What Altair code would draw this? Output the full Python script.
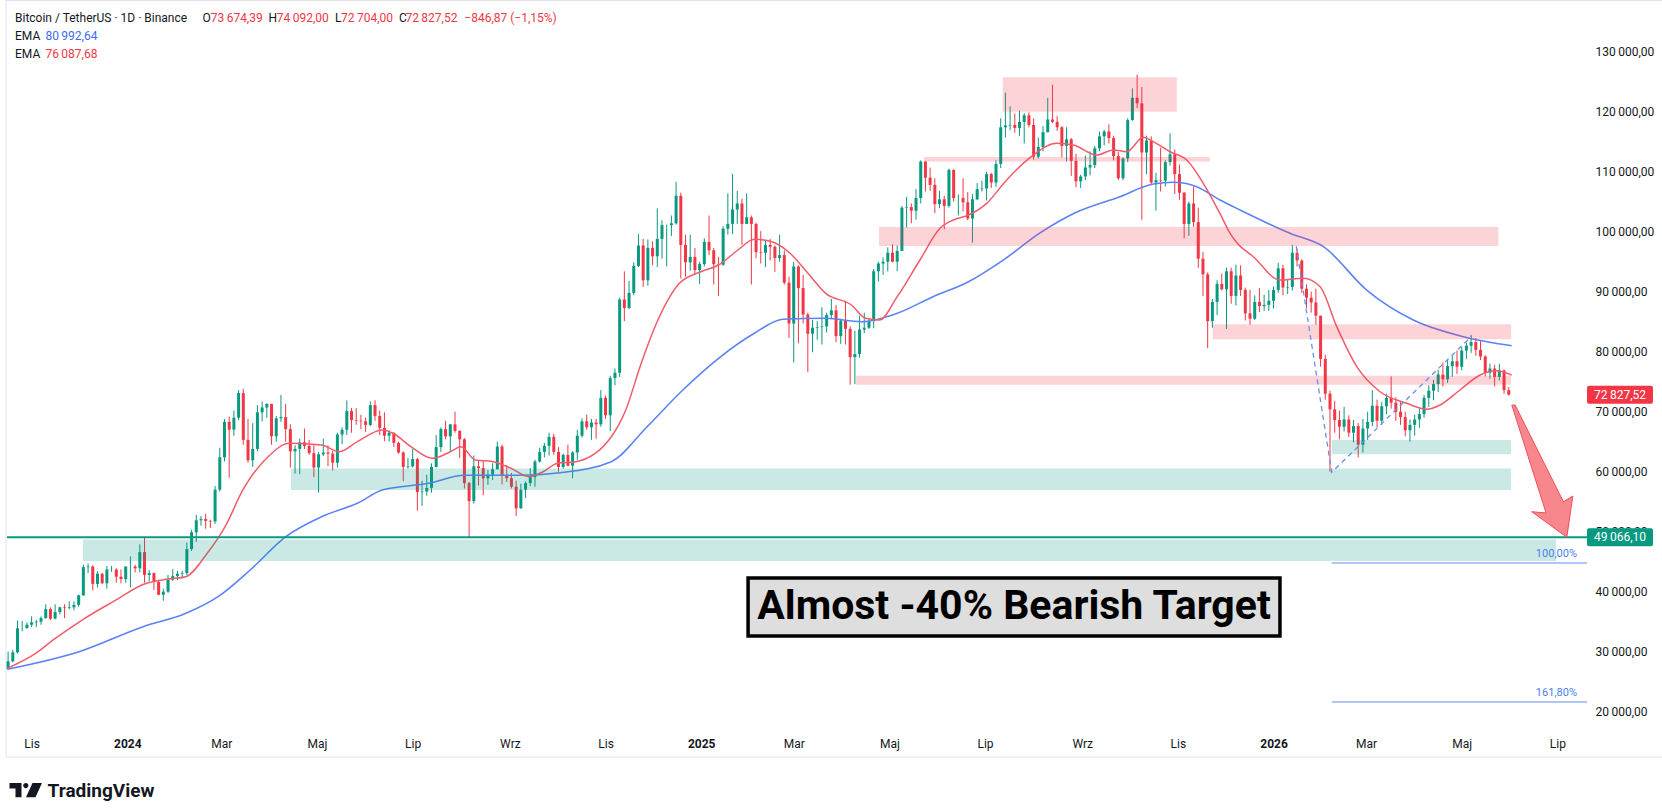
import altair as alt
import pandas as pd

FONT = "Roboto"
GREEN = "#089981"
RED = "#F23645"
TEXT = "#131722"

# ---------------- data (days are counted from 2026-01-01) ----------------
START_DAY = -808          # first candle bucket starts 2023-10-16
STEP = 3                  # each candle covers three days
first_open = 27150

closes = [
    28400, 29900, 33900, 33900, 34500, 34900, 35000, 35600, 37100, 35500,
    36600, 37400, 37300, 37400, 37800, 39400, 44100, 44200, 41300, 43000,
    41400, 43700, 43700, 42500, 42100, 44200, 44200, 43900, 46600, 42800,
    43100, 41600, 39500, 40000, 42000, 42600, 43000, 43100, 47100, 49900,
    51900, 52100, 51800, 51700, 57000, 62400, 68300, 67000, 69000, 73100,
    65300, 61900, 63800, 69900, 70700, 71300, 65900, 68900, 69100, 67100,
    63400, 63800, 64900, 64300, 63100, 60700, 62900, 63200, 63000, 61500,
    66200, 67000, 70100, 68600, 68500, 68400, 67800, 71100, 69300, 67300,
    66000, 66500, 64800, 63200, 60800, 60900, 62100, 56600, 56700, 57300,
    60800, 64100, 67100, 65900, 67900, 66800, 65400, 58100, 55100, 60900,
    60600, 58900, 59500, 60400, 64200, 59400, 58900, 57500, 53900, 57000,
    58100, 59100, 61700, 63300, 64300, 65800, 63300, 60800, 62800, 61000,
    63200, 66000, 68400, 67400, 68200, 67900, 72300, 69400, 75600, 76500,
    88700, 87300, 89800, 94300, 97700, 91900, 97300, 95900, 98800, 101100,
    101100, 101400, 106000, 97800, 94900, 95800, 93600, 94600, 98300, 96900,
    94600, 94500, 100500, 101300, 103700, 104700, 101300, 102400, 101300, 96600,
    96500, 97800, 97500, 95600, 96100, 91500, 84700, 94200, 90600, 86200,
    83000, 84000, 84100, 84200, 86100, 86900, 82600, 85200, 83800, 79100,
    79600, 83700, 84000, 85100, 93400, 94700, 95000, 96500, 95000, 96800,
    104000, 104100, 103500, 105600, 111700, 109000, 107800, 104600, 105400, 104300,
    110300, 105600, 105600, 104900, 102200, 105400, 107100, 107200, 109600, 108200,
    111300, 117400, 117700, 117800, 117300, 118300, 119400, 117800, 112500, 114100,
    116600, 118700, 118300, 117400, 114300, 115400, 111800, 108400, 109200, 110700,
    111100, 113900, 115900, 116700, 115600, 112600, 108900, 112200, 118600, 122300,
    121400, 113200, 115200, 108200, 108600, 108500, 111600, 112900, 109600, 106500,
    101300, 104700, 101600, 95500, 92900, 85100, 88300, 91300, 90400, 93400,
    89300, 92700, 90300, 86400, 85500, 88300, 87600, 87800, 88500, 90300,
    93900, 90700, 90800, 96500, 95200, 90500, 89000, 88200, 86000, 78800,
    73000, 70400, 68600, 67500, 68700, 66500, 67600, 64500, 67200, 68300,
    71000, 68500, 70900, 72300, 71500, 70000, 69100, 66900, 67800, 68700,
    69600, 72300, 73500, 74600, 76200, 75400, 77600, 78400, 77500, 80200,
    81000, 81600, 80300, 79200, 76500, 77200, 75800, 76900, 73600, 72827.52,
]

highs = [
    30000, 30300, 35200, 35100, 34900, 35900, 35300, 35900, 37900, 37400,
    37900, 37500, 37900, 38400, 38400, 39500, 44500, 44700, 44400, 43400,
    43100, 44300, 44300, 43900, 43700, 44200, 45900, 44500, 47900, 49000,
    43600, 43200, 42000, 40500, 42800, 43800, 43500, 43500, 48200, 50300,
    52800, 52600, 53000, 52000, 57600, 64000, 68800, 69200, 70200, 73600,
    73800, 68800, 68100, 71100, 71700, 71400, 71300, 69300, 72800, 71300,
    67900, 64400, 65500, 67200, 65300, 64400, 63300, 65500, 64400, 63500,
    66500, 67400, 71900, 70600, 70600, 69500, 69000, 71700, 71900, 70200,
    69900, 66900, 66500, 65000, 63400, 62300, 63800, 62300, 58500, 59500,
    61400, 66100, 67400, 68500, 67900, 70000, 66900, 65600, 58300, 62700,
    61800, 61800, 60300, 61400, 65000, 64500, 61100, 59800, 58500, 58000,
    58400, 60600, 62000, 64000, 64800, 66500, 66300, 64100, 63000, 64500,
    63400, 67000, 68900, 69500, 68800, 68800, 73600, 72700, 76000, 77200,
    89000, 93400, 91800, 94900, 99600, 98800, 98700, 98400, 103900, 101900,
    101200, 102700, 108300, 106500, 99500, 99500, 97300, 95000, 98900, 102700,
    97300, 95800, 100900, 106400, 109600, 106800, 105500, 106400, 102700, 101500,
    100100, 98500, 98800, 97700, 99500, 96900, 92500, 95000, 94400, 92800,
    86500, 85300, 85100, 87400, 86500, 88800, 87800, 85500, 88500, 84200,
    83500, 86000, 86500, 85500, 93800, 95000, 95700, 97400, 97900, 97700,
    104300, 105800, 104700, 107100, 111900, 111300, 110700, 108900, 106800, 106000,
    110500, 110400, 106200, 108900, 106600, 106300, 108100, 108500, 110000, 109800,
    111900, 118900, 123200, 120900, 119700, 120200, 119800, 119900, 118900, 115700,
    117600, 122300, 124500, 119300, 117600, 117400, 115600, 113000, 109500, 112700,
    113400, 114300, 116700, 117000, 117900, 116000, 113300, 112400, 118900, 123900,
    126200, 124100, 116000, 115900, 109800, 114000, 111900, 116400, 113700, 111200,
    106600, 105000, 107500, 104000, 96600, 93200, 88800, 91900, 93000, 94000,
    94000, 94500, 94400, 90700, 90300, 89400, 90600, 89500, 90300, 90900,
    94800, 94500, 92000, 97800, 97200, 95400, 91200, 90000, 90500, 86000,
    79500, 73500, 71800, 70200, 70800, 69400, 68600, 68100, 68800, 70000,
    73600, 72000, 71600, 73000, 75900, 72400, 71600, 70000, 68700, 69500,
    70500, 72800, 74400, 75300, 77000, 78200, 78800, 79300, 80200, 80800,
    81500, 82800, 82300, 81800, 79400, 78000, 77800, 78000, 77000, 74100,
]

lows = [
    27100, 28200, 29700, 33400, 33900, 34100, 34100, 34500, 35500, 35300,
    35400, 36200, 35600, 37100, 36900, 37500, 39300, 43100, 40200, 40700,
    41300, 40500, 43300, 41500, 41400, 41500, 40700, 43200, 43200, 41500,
    41700, 40300, 39400, 38500, 39800, 41800, 41900, 42200, 42800, 46800,
    48300, 51000, 50500, 50600, 51300, 56700, 61700, 59000, 66000, 68600,
    64500, 61500, 60800, 63400, 68400, 69000, 64500, 65000, 68300, 65000,
    60700, 59700, 59600, 63800, 62800, 59100, 56500, 62600, 60900, 60200,
    60700, 64600, 66100, 66500, 67800, 67100, 66600, 67600, 68500, 66100,
    65100, 65000, 64100, 63000, 58400, 60500, 60700, 53500, 54300, 56000,
    56500, 60700, 63300, 65400, 63400, 66500, 62300, 57200, 49000, 54700,
    57700, 56100, 57800, 58600, 60400, 57900, 58300, 57200, 52600, 53800,
    55600, 57600, 57500, 61500, 62400, 62700, 62800, 60000, 60500, 60900,
    58900, 62000, 65700, 67000, 65300, 65500, 67500, 68800, 66800, 74400,
    75800, 85100, 87100, 89400, 94100, 90800, 91000, 94400, 94100, 95500,
    94200, 99300, 101200, 92200, 92500, 93500, 92900, 91300, 94200, 96100,
    91200, 89300, 94300, 99500, 99600, 101300, 97800, 101300, 91200, 95600,
    94700, 94100, 95200, 93300, 95000, 91200, 82300, 78200, 81400, 84700,
    76600, 79900, 82000, 81200, 83200, 85500, 81600, 81300, 81200, 74500,
    74600, 79000, 83100, 83800, 83900, 91700, 92800, 93400, 94900, 93400,
    96800, 100700, 101400, 102000, 104700, 106700, 106800, 103100, 103900, 100400,
    104000, 105000, 102700, 103400, 101900, 98200, 105300, 106700, 105200, 107300,
    107500, 110600, 115700, 116900, 116500, 116000, 114700, 117400, 112000, 112200,
    113400, 116500, 118100, 116800, 112400, 111700, 109300, 107400, 107300, 108600,
    109400, 110600, 113400, 114400, 114700, 111900, 108600, 108600, 111600, 118500,
    120600, 102000, 109600, 107900, 103500, 106700, 107500, 111000, 106300, 105300,
    98900, 99300, 100800, 94000, 89300, 80600, 84000, 86100, 90200, 83800,
    88000, 87700, 89300, 85200, 84500, 85300, 86600, 86800, 86800, 87200,
    89800, 89400, 89600, 90200, 94200, 89800, 87300, 86500, 84500, 77500,
    72000, 60000, 66500, 65400, 66700, 65800, 64900, 62400, 63200, 65300,
    67600, 67400, 67800, 69600, 70500, 68500, 67800, 65900, 65000, 66000,
    67300, 69000, 70800, 71900, 73300, 74200, 74800, 75800, 76300, 76900,
    78800, 79800, 79300, 78600, 75900, 75500, 74200, 75200, 73000, 72700,
]

# EMA curves (day, value)
ema_slow_days = [-807.6, -761.8, -720.9, -693.6, -673.1, -652.6, -629.9, -607.1, -584.3, -568.4,
                 -538.7, -516.0, -481.8, -455.0, -422.3, -399.5, -376.7, -353.9, -331.1, -312.9,
                 -285.6, -262.8, -240.0, -217.2, -194.5, -171.7, -148.9, -126.1, -97.9, -76.7,
                 -63.9, -49.0, -34.1, -21.4, 10.5, 31.8, 59.4, 89.2, 121.0, 151.9]
ema_slow_vals = [27070, 30000, 34170, 36400, 39170, 43620, 49170, 52500, 54730, 56950,
                 58070, 59400, 59400, 59830, 61670, 67500, 73620, 78900, 83070, 85400,
                 85570, 85000, 86400, 89170, 91670, 95400, 99800, 103200, 105830, 107950,
                 108230, 107500, 105280, 103620, 99730, 97500, 90280, 85280, 82500, 80990]

ema_fast_days = [-807.6, -789.4, -778.0, -759.8, -737.0, -721.0, -705.1, -693.7, -680.0, -668.6,
                 -657.2, -641.2, -627.6, -607.1, -595.7, -584.3, -568.4, -561.5, -550.1, -536.4,
                 -525.0, -518.2, -509.1, -497.7, -486.3, -474.9, -465.8, -456.7, -445.0, -422.3,
                 -413.1, -404.0, -392.6, -378.9, -365.3, -353.9, -341.6, -331.1, -319.8, -308.3,
                 -296.9, -285.6, -269.2, -260.1, -251.4, -240.0, -225.5, -212.7, -204.2, -194.5,
                 -182.9, -170.2, -153.2, -138.3, -127.7, -112.8, -102.2, -93.6, -83.0, -76.7,
                 -66.0, -55.4, -44.8, -34.1, -27.7, -23.5, -12.9, 4.1, 19.0, 29.7,
                 40.3, 53.1, 67.9, 84.9, 97.7, 106.2, 118.9, 131.7, 142.3, 151.9]
ema_fast_vals = [27230, 29730, 32000, 35280, 38800, 41200, 42100, 42500, 46400, 50830,
                 57000, 62500, 64730, 64450, 63330, 65000, 66950, 66400, 64170, 62230,
                 63330, 64170, 61950, 61670, 60570, 59170, 60000, 61400, 61670, 65830,
                 70280, 77500, 85280, 91400, 93330, 94450, 96950, 98730, 98330, 96400,
                 93070, 89730, 87780, 85570, 85280, 89170, 95280, 100570, 101950, 102780,
                 104730, 108620, 112780, 114730, 114450, 112780, 113620, 113330, 115730, 115000,
                 113330, 111950, 108070, 103000, 99730, 98200, 95830, 91950, 92230, 90830,
                 84170, 77500, 73330, 71400, 70400, 71120, 73620, 76120, 76830, 76090]

# resistance (red) and support (green) zones
red_zone_start = [-172.7, -222.9, -251.6, -38.8, -266.2]
red_zone_end = [-61.7, -40.5, 143.4, 151.5, 151.5]
red_zone_low = [120000, 111700, 97600, 82060, 74500]
red_zone_high = [125730, 112450, 100800, 84560, 76000]

green_zone_start = [-759.3, -626.6, 37.1]
green_zone_end = [180.2, 151.5, 151.5]
green_zone_low = [45100, 56950, 62900]
green_zone_high = [48700, 60550, 65280]

support_level = 49066.10
last_close = 72827.52
price_tags = ["72\u2009827,52", "49\u2009066,10"]

fib_levels = [44800, 21600]
fib_names = ["100,00%", "161,80%"]
fib_start_day = 37.1

swing_days = [14.5, 37.1, 126.4]
swing_vals = [97600, 59900, 82600]

arrow_day, arrow_price = 171.4, 60083
box_days = [-335.1, 4.1]
box_prices = [32617, 42283]
box_text = "Almost -40% Bearish Target"

month_ticks = [-792, -731, -671, -610, -549, -487, -426, -365, -306, -245, -184, -122, -61, 0, 59, 120, 181]
month_names = ["Lis", "2024", "Mar", "Maj", "Lip", "Wrz", "Lis", "2025", "Mar", "Maj", "Lip", "Wrz",
               "Lis", "2026", "Mar", "Maj", "Lip"]
price_ticks = list(range(20000, 130001, 10000))

# ---------------- build tables ----------------
n = min(len(closes), len(highs), len(lows))
rows = []
prev = first_open
for i in range(n):
    o, c = prev, closes[i]
    rows.append({"day": START_DAY + STEP * i + 1, "open": o, "close": c,
                 "high": max(highs[i], o, c), "low": min(lows[i], o, c)})
    prev = c
candles = pd.DataFrame(rows)

W, H = 1580, 730
X_DOMAIN = [-807.7, 199.9]
Y_DOMAIN = [16950, 138617]
xscale = alt.Scale(domain=X_DOMAIN, nice=False, zero=False)
yscale = alt.Scale(domain=Y_DOMAIN, nice=False, zero=False)

label_expr = "".join(f"datum.value == {d} ? '{m}' : " for d, m in zip(month_ticks, month_names)) + "''"
year_test = " || ".join(f"datum.value == {d}" for d, m in zip(month_ticks, month_names) if m.isdigit())

x_axis = alt.Axis(values=month_ticks, labelExpr=label_expr, title=None, grid=False, ticks=False,
                  domain=False, labelPadding=8, labelFontSize=12, labelFont=FONT, labelColor=TEXT,
                  labelFontWeight={"condition": {"test": year_test, "value": "bold"}, "value": "normal"},
                  labelOverlap=False, labelFlush=False)
y_axis = alt.Axis(orient="right", values=price_ticks,
                  labelExpr="replace(replace(format(datum.value, ',.2f'), ',', '\u2009'), '.', ',')",
                  title=None, grid=False, ticks=False, domain=False, labelPadding=8, labelFontSize=12,
                  labelFont=FONT, labelColor=TEXT, labelAlign="left", labelBaseline="middle")


def X(f):
    return alt.X(f"{f}:Q", scale=xscale, axis=x_axis)


def Y(f):
    return alt.Y(f"{f}:Q", scale=yscale, axis=y_axis)


one = alt.Data(values=[{}])


def label(txt, x, y, color=TEXT, size=12, weight="normal", align="left", baseline="middle"):
    return alt.Chart(one).mark_text(text=txt, align=align, baseline=baseline, font=FONT, fontSize=size,
                                    fontWeight=weight, color=color).encode(x=alt.value(x), y=alt.value(y))


updown = alt.condition("datum.close >= datum.open", alt.value(GREEN), alt.value(RED))
base = alt.Chart(candles)
wicks = base.mark_rule(strokeWidth=1).encode(x=X("day"), y=Y("low"), y2="high:Q", color=updown)
bodies = base.mark_rule(strokeWidth=3).encode(x=X("day"), y=Y("open"), y2="close:Q", color=updown)

ema_slow = alt.Chart(pd.DataFrame({"day": ema_slow_days, "v": ema_slow_vals})).mark_line(
    color="#5b83f5", strokeWidth=1.6, interpolate="monotone").encode(x=X("day"), y=Y("v"))
ema_fast = alt.Chart(pd.DataFrame({"day": ema_fast_days, "v": ema_fast_vals})).mark_line(
    color="#f25c6a", strokeWidth=1.5, interpolate="monotone").encode(x=X("day"), y=Y("v"))

red_zones = alt.Chart(pd.DataFrame({"d1": red_zone_start, "d2": red_zone_end, "lo": red_zone_low,
                                    "hi": red_zone_high})).mark_rect(color=RED, opacity=0.21).encode(
    x=X("d1"), x2="d2:Q", y=Y("lo"), y2="hi:Q")
green_zones = alt.Chart(pd.DataFrame({"d1": green_zone_start, "d2": green_zone_end, "lo": green_zone_low,
                                      "hi": green_zone_high})).mark_rect(color=GREEN, opacity=0.21).encode(
    x=X("d1"), x2="d2:Q", y=Y("lo"), y2="hi:Q")

support = alt.Chart(pd.DataFrame({"v": [support_level]})).mark_rule(color=GREEN, strokeWidth=2).encode(
    y=Y("v"), x=alt.value(0), x2=alt.value(W))

fib_df = pd.DataFrame({"d1": [fib_start_day] * len(fib_levels), "d2": [X_DOMAIN[1]] * len(fib_levels),
                       "v": fib_levels, "name": fib_names})
fib_lines = alt.Chart(fib_df).mark_rule(color="#94b3f5", strokeWidth=1.5).encode(
    x=X("d1"), x2="d2:Q", y=Y("v"))
fib_text = alt.Chart(fib_df).mark_text(align="right", baseline="bottom", dy=-4, color="#4c7ef0",
                                       fontSize=11, font=FONT).encode(x=alt.value(1570), y=Y("v"), text="name:N")

swing = alt.Chart(pd.DataFrame({"day": swing_days, "v": swing_vals, "i": list(range(len(swing_days)))})).mark_line(
    strokeDash=[5, 4], color="#6b8ff0", strokeWidth=1.3).encode(x=X("day"), y=Y("v"), order="i:Q")

ARROW = ("M-0.461,-0.999 L-0.411,-0.999 L0.319,0.461 L0.461,0.375 L0.370,0.998 "
         "L-0.159,0.612 L0.057,0.631 Z")
arrow = alt.Chart(pd.DataFrame({"day": [arrow_day], "v": [arrow_price]})).mark_point(
    shape=ARROW, size=17530, filled=True, color="#f7868d", stroke="#ee4f5c", strokeWidth=1,
    opacity=1).encode(x=X("day"), y=Y("v"))

box_df = pd.DataFrame({"d1": [box_days[0]], "d2": [box_days[1]], "lo": [box_prices[0]], "hi": [box_prices[1]],
                       "dc": [sum(box_days) / 2], "vc": [sum(box_prices) / 2]})
box = alt.Chart(box_df).mark_rect(fill="#dedede", stroke="black", strokeWidth=3.5).encode(
    x=X("d1"), x2="d2:Q", y=Y("lo"), y2="hi:Q")
box_label = alt.Chart(box_df).mark_text(text=box_text, fontSize=41, fontWeight="bold", font=FONT,
                                        color="black", align="center", baseline="middle").encode(
    x=X("dc"), y=Y("vc"))

tag_df = pd.DataFrame({"v": [last_close, support_level], "label": price_tags, "c": [RED, GREEN]})
tag_rect = alt.Chart(tag_df).mark_rect(yOffset=-9, y2Offset=9, cornerRadius=2).encode(
    x=alt.value(1580), x2=alt.value(1646), y=Y("v"), y2="v:Q", color=alt.Color("c:N", scale=None))
tag_text = alt.Chart(tag_df).mark_text(color="white", fontSize=12, font=FONT, align="center",
                                       baseline="middle").encode(x=alt.value(1613), y=Y("v"), text="label:N")

frame_col = "#e0e3eb"
frame_left = alt.Chart(one).mark_rule(color=frame_col, strokeWidth=1).encode(
    x=alt.value(-1), y=alt.value(0), y2=alt.value(757))
frame_bottom = alt.Chart(one).mark_rule(color=frame_col, strokeWidth=1).encode(
    x=alt.value(-1), x2=alt.value(1655), y=alt.value(757))
frame_top = alt.Chart(one).mark_rule(color=frame_col, strokeWidth=1).encode(
    x=alt.value(-1), x2=alt.value(1655), y=alt.value(0.5))

LOGO = ("M-1,-0.431 L-0.262,-0.431 L-0.262,0.449 L-0.631,0.449 L-0.631,-0.092 L-1,-0.092 Z "
        "M-0.157,-0.271 A0.16,0.16 0 1,0 0.163,-0.271 A0.16,0.16 0 1,0 -0.157,-0.271 Z "
        "M0.415,-0.431 L1,-0.431 L0.6,0.449 L0.015,0.449 Z")
logo = alt.Chart(one).mark_point(shape=LOGO, size=1056, filled=True, color=TEXT, opacity=1,
                                 strokeWidth=0).encode(x=alt.value(18.75), y=alt.value(790))

header = [
    label("Bitcoin / TetherUS \u00b7 1D \u00b7 Binance", 8, 18),
    label("O", 195.5, 18), label("73\u2009674,39", 203.7, 18, RED),
    label("H", 261.6, 18), label("74\u2009092,00", 269.8, 18, RED),
    label("L", 328, 18), label("72\u2009704,00", 334, 18, RED),
    label("C", 392, 18), label("72\u2009827,52", 398.4, 18, RED),
    label("\u2212846,87 (\u22121,15%)", 457.3, 18, RED),
    label("EMA", 8, 36), label("80\u2009992,64", 38.4, 36, "#3d6ef5"),
    label("EMA", 8, 54), label("76\u2009087,68", 38.4, 54, RED),
    label("TradingView", 40.6, 797, TEXT, 19, "bold", baseline="alphabetic"),
]

chart = alt.layer(
    frame_top, frame_left, frame_bottom,
    wicks, bodies, ema_slow, ema_fast,
    red_zones, green_zones, support, fib_lines, fib_text, swing, arrow,
    box, box_label, tag_rect, tag_text, logo, *header,
).properties(
    width=W, height=H,
    padding={"left": 7, "top": 0, "right": 75, "bottom": 82},
    autosize=alt.AutoSizeParams(type="none"),
    background="white",
).configure_view(stroke=None)

chart.save("out.html", embed_options={"renderer": "svg", "actions": False})
